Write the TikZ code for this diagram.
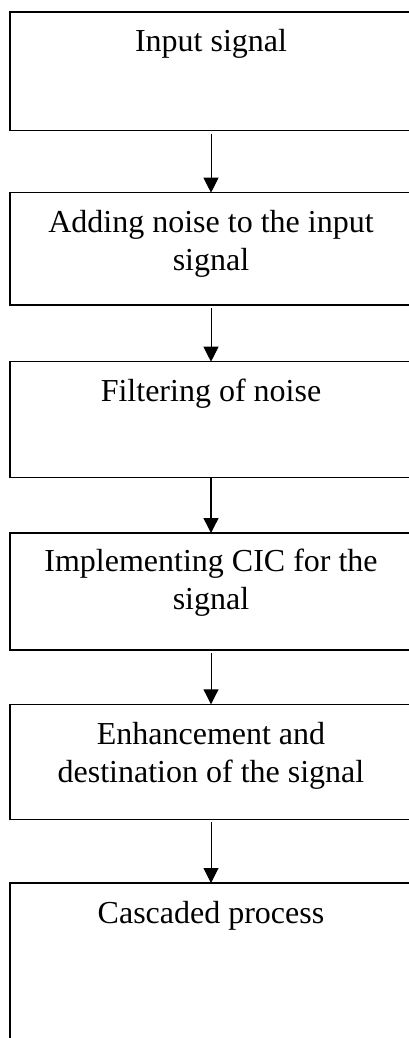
\documentclass[tikz,border=0pt]{standalone}
\usepackage{fontspec}
\setmainfont{Liberation Serif}
\usetikzlibrary{arrows.meta}

\tikzset{
  stage/.style={draw=black, line width=1.3pt, rectangle, anchor=north west,
                minimum width=402pt, inner sep=0pt, outer sep=0pt},
  % base anchor sits on the last line of a caption
  caption/.style={anchor=base, inner sep=0pt, align=center,
                  font=\fontsize{32}{38}\selectfont},
  flow/.style={line width=1pt, -{Triangle[width=15pt,length=15pt]},
               shorten <=3pt}
}

\begin{document}
\begin{tikzpicture}[x=1pt, y=-1pt]
  \useasboundingbox (0,0) rectangle (409,1038);

  % process stages (top edge, height)
  \node[stage, minimum height=118.7pt] (b1) at (10,12)    {};
  \node[stage, minimum height=112.3pt] (b2) at (10,192.7) {};
  \node[stage, minimum height=116pt]   (b3) at (10,361.7) {};
  \node[stage, minimum height=117pt]   (b4) at (10,533)   {};
  \node[stage, minimum height=115pt]   (b5) at (10,704.3) {};
  \node[stage, minimum height=170pt]   (b6) at (10,883)   {};

  % stage captions, first baseline 40pt below each top edge
  \node[caption] (t1) at (211,52)    {Input signal};
  \node[caption] (t2) at (211,270.7) {Adding noise to the input\\signal};
  \node[caption] (t3) at (211,401.7) {Filtering of noise};
  \node[caption] (t4) at (211,609)   {Implementing CIC for the\\signal};
  \node[caption] (t5) at (211,782.3) {Enhancement and\\destination of the signal};
  \node[caption] (t6) at (211,923)   {Cascaded process};

  % connectors
  \draw[flow] (b1.south) -- (b2.north);
  \draw[flow] (b2.south) -- (b3.north);
  \draw[flow, shorten <=0pt, line width=1.4pt] (b3.south) -- (b4.north);
  \draw[flow] (b4.south) -- (b5.north);
  \draw[flow] (b5.south) -- (b6.north);
\end{tikzpicture}
\end{document}
